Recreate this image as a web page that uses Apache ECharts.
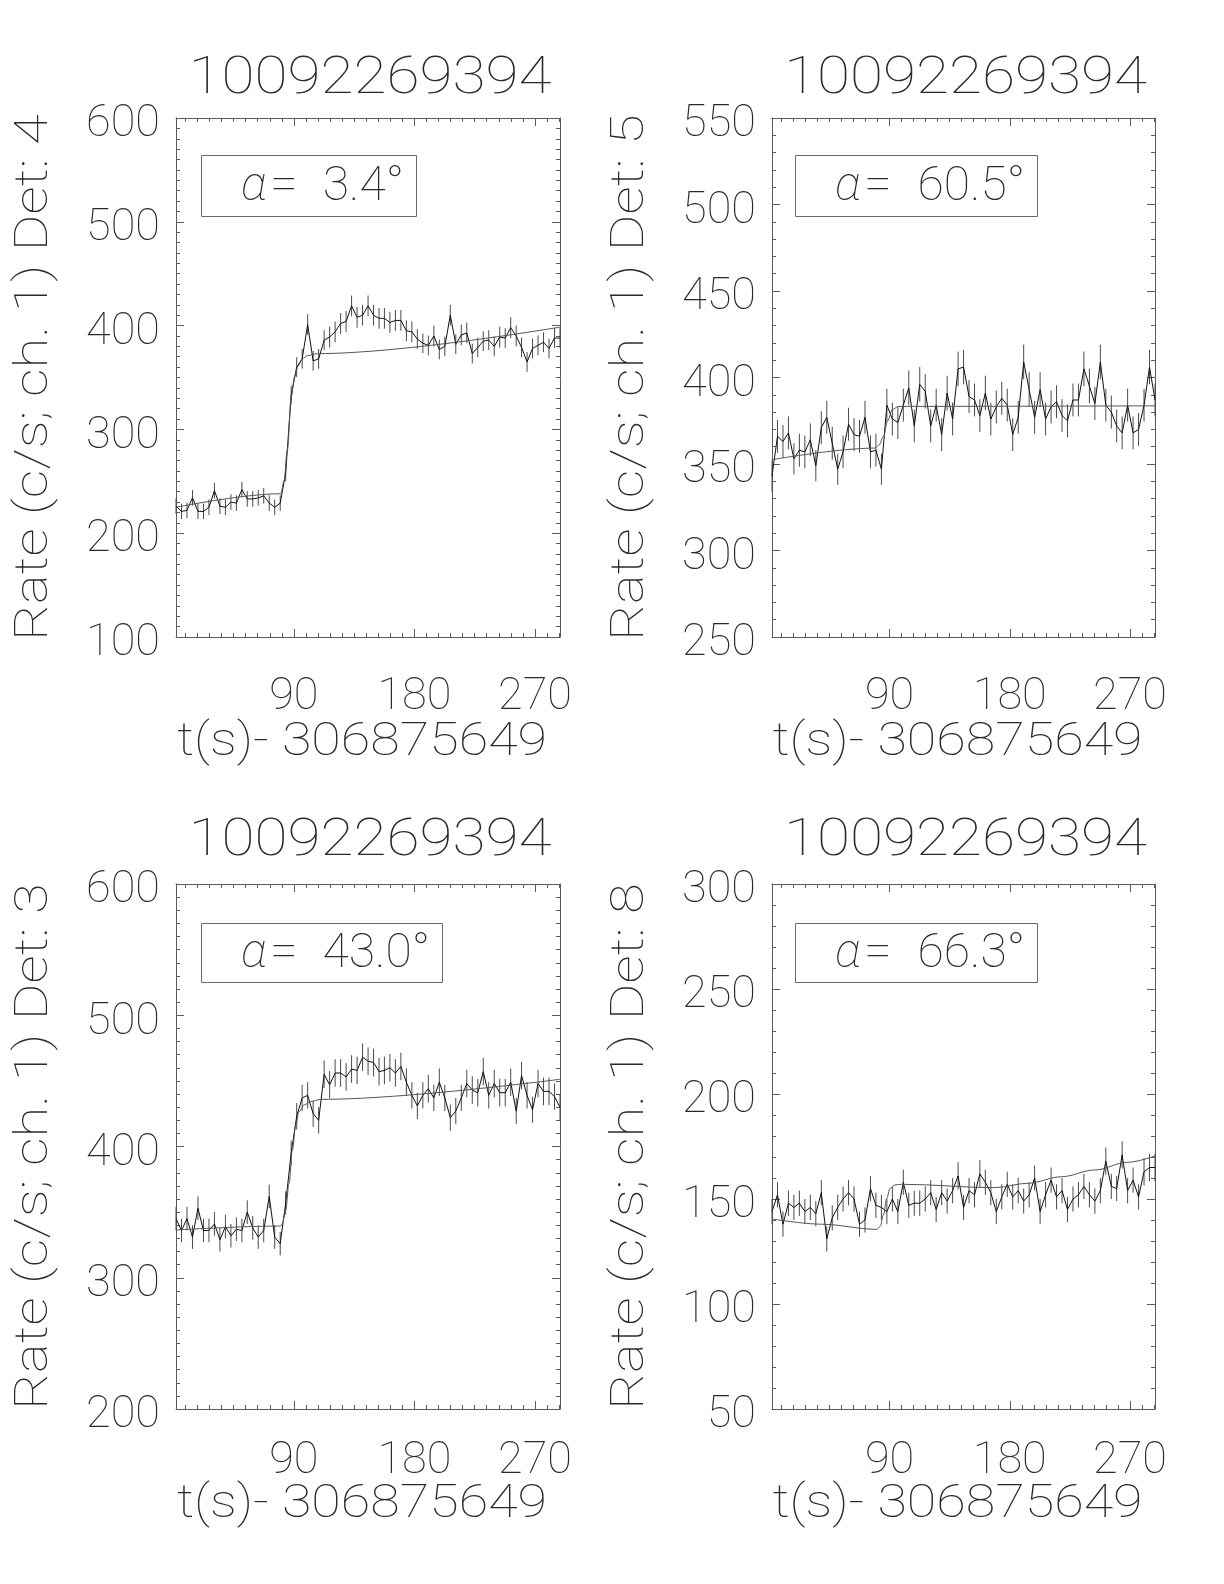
<!DOCTYPE html>
<html><head><meta charset="utf-8">
<script src="https://cdn.jsdelivr.net/npm/echarts@6/dist/echarts.min.js"></script>
<style>html,body{margin:0;padding:0;background:#fff}#c{width:1224px;height:1584px}</style>
</head><body><div id="c"></div>
<script>
// ---------- data ----------
const times = [2.0,6.1,10.2,14.3,18.4,22.5,26.6,30.7,34.8,38.9,43.0,47.1,51.2,55.2,59.3,63.4,67.5,71.6,75.7,79.8,83.9,88.0,92.1,96.2,100.3,104.4,108.5,112.6,116.7,120.8,124.9,129.0,133.1,137.2,141.3,145.4,149.5,153.6,157.6,161.7,165.8,169.9,174.0,178.1,182.2,186.3,190.4,194.5,198.6,202.7,206.8,210.9,215.0,219.1,223.2,227.3,231.4,235.5,239.6,243.7,247.8,251.9,256.0,260.0,264.1,268.2,272.3,276.4,280.5,284.6,288.7];
const xTickLabels = [90, 180, 270];
const xMinorTicks = [9,18,27,36,45,54,63,72,81,99,108,117,126,135,144,153,162,171,189,198,207,216,225,234,243,252,261,279,288];
const panelTitle = '10092269394';
const xAxisTitle = 't(s)- 306875649';
const detectors = ['4', '5', '3', '8'];
const alphaValues = ['3.4', '60.5', '43.0', '66.3'];

// Det 4
const det4Rate = [226,221,222,234,221,221,225,241,226,225,230,229,242,233,233,234,236,229,225,229,258,333,360,368,401,366,368,386,389,394,402,404,419,408,410,419,410,407,407,403,405,405,395,394,387,383,381,390,377,380,410,382,391,393,373,379,385,386,380,389,388,398,390,379,365,378,381,384,378,388,388];
const det4Err = [7.5,7.5,7.5,7.5,7.5,7.5,7.5,7.5,7.5,7.5,7.5,7.5,7.5,7.5,7.5,7.5,7.5,7.5,7.5,7.5,8,9,9.5,9.5,10,9.5,9.5,9.5,10,10,10,10,10,10,10,10,10,10,10,10,10,10,10,10,9.5,9.5,9.5,10,9.5,9.5,10,9.5,10,10,9.5,9.5,9.5,9.5,9.5,10,9.5,10,10,9.5,9.5,9.5,9.5,9.5,9.5,9.5,9.5];
const det4FitT = [2,80.2,82.6,85.1,88.1,90.6,93.1,96.3,100.1,107.5,288.7];
const det4FitV = [225,238,250,280,332,351,361,368,371,373,398.5];

// Det 5
const det5Rate = [343,366,363,368,353,358,357,364,349,371,377,362,347,357,373,367,366,377,357,358,347,384,376,374,384,394,372,396,392,372,384,367,391,376,405,406,389,387,378,391,376,383,388,384,367,377,409,393,377,393,376,383,386,378,375,387,387,405,395,385,409,384,380,372,368,384,368,370,384,406,387];
const det5Err = [9,9.5,9.5,9.5,9,9.5,9.5,9.5,9,9.5,9.5,9.5,9,9.5,9.5,9.5,9.5,9.5,9.5,9.5,9,9.5,9.5,9.5,9.5,10,9.5,10,10,9.5,9.5,9.5,10,9.5,10,10,9.5,9.5,9.5,10,9.5,9.5,9.5,9.5,9.5,9.5,10,10,9.5,10,9.5,9.5,9.5,9.5,9.5,9.5,9.5,10,10,9.5,10,9.5,9.5,9.5,9.5,9.5,9.5,9.5,9.5,10,9.5];
const det5FitT = [2,79.2,82.2,85.4,88.6,92.1,96.6,288.7];
const det5FitV = [352.5,359.2,361,366,375,381.5,383.3,383.6];

// Det 3
const det3Rate = [345,336,345,331,353,336,336,341,329,339,332,337,336,350,338,331,336,362,331,326,357,395,423,437,439,425,420,455,447,456,456,453,459,458,468,465,464,457,458,460,456,461,449,439,431,439,444,437,449,437,422,427,437,448,443,441,457,439,448,441,441,449,427,454,439,428,448,442,442,438,430];
const det3Err = [9,9,9,9,9,9,9,9,9,9,9,9,9,9,9,9,9,9,9,9,9,9.5,10,10,10,10,10,10.5,10.5,10.5,10.5,10.5,10.5,10.5,10.5,10.5,10.5,10.5,10.5,10.5,10.5,10.5,10.5,10,10,10,10.5,10,10.5,10,10,10,10,10.5,10.5,10.5,10.5,10,10.5,10.5,10.5,10.5,10,10.5,10,10,10.5,10.5,10.5,10,10];
const det3FitT = [2,80.2,81.4,83.9,86.4,88.9,91.4,93.8,97.6,102.6,110,288.7];
const det3FitV = [336.4,339.4,341.4,351.6,371.9,397.3,416.4,426.5,431.6,434.2,435.9,451.2];

// Det 8
const det8Rate = [144,152,138,148,146,148,144,146,143,153,131,141,146,150,153,150,138,140,155,147,146,144,150,144,158,147,148,148,150,153,145,153,149,154,161,146,154,152,162,158,153,144,151,157,151,154,149,152,160,144,152,159,151,154,145,150,152,156,152,149,154,168,156,155,171,154,159,151,163,165,165];
const det8Err = [6,6,6,6,6,6,6,6,6,6,6,6,6,6,6,6,6,6,6,6,6,6,6,6,6,6,6,6,6,6,6,6,6,6,6.5,6,6,6,6.5,6,6,6,6,6,6,6,6,6,6,6,6,6,6,6,6,6,6,6,6,6,6,6.5,6,6,6.5,6,6,6,6.5,6.5,6.5];
const det8FitT = [2,39.3,80.4,83,85.4,87.9,90.4,94.1,99.1,168.8,193.7,218.6,243.4,268.3,288.7];
const det8FitV = [140.5,138,135.5,137,142.4,150.3,155.1,156.7,157,155.4,157.5,160.6,163.8,167.5,170.5];

// ---------- layout / style ----------
const FONT = 'Roboto, "DejaVu Sans", sans-serif';
const FW = 100;
const TXT = '#2a2a2a';
const AXC = '#5a5a5a';
const X_MIN = 2, X_MAX = 288.7;

const panels = [
  {rate: det4Rate, err: det4Err, fitT: det4FitT, fitV: det4FitV, ymin: 100, ymax: 600, yint: 100, ysplit: 10, box: [176,118,384,519], xlabMargin: 38, alphaBox: [201,155,215,61]},
  {rate: det5Rate, err: det5Err, fitT: det5FitT, fitV: det5FitV, ymin: 250, ymax: 550, yint: 50, ysplit: 5, box: [772,118,383,519], xlabMargin: 38, alphaBox: [795,155,242,61]},
  {rate: det3Rate, err: det3Err, fitT: det3FitT, fitV: det3FitV, ymin: 200, ymax: 600, yint: 100, ysplit: 10, box: [176,884,384,525], xlabMargin: 30, alphaBox: [201,923,241,59]},
  {rate: det8Rate, err: det8Err, fitT: det8FitT, fitV: det8FitV, ymin: 50, ymax: 300, yint: 50, ysplit: 5, box: [772,884,383,525], xlabMargin: 30, alphaBox: [795,923,242,59]}
];
const titleY = [80, 80, 842, 842];
const xNameY = [743, 743, 1505, 1505];

const option = {animation: false, backgroundColor: '#fff', grid: [], xAxis: [], yAxis: [], series: [], graphic: []};
const labelStyle = {fontFamily: FONT, fontWeight: FW, fontSize: 45, color: TXT};
const tickLine = {color: AXC, width: 1};

function errRender(params, api) {
  const t = api.value(0), lo = api.value(1), hi = api.value(2);
  const p1 = api.coord([t, lo]);
  const p2 = api.coord([t, hi]);
  return {type: 'line', shape: {x1: p1[0], y1: p1[1], x2: p2[0], y2: p2[1]}, style: {stroke: '#4a4a4a', lineWidth: 1}};
}

panels.forEach((p, g) => {
  const [L, T, W, H] = p.box;
  option.grid.push({left: L, top: T, width: W, height: H, show: false});
  ['bottom', 'top'].forEach(pos => {
    option.xAxis.push({
      gridIndex: g, type: 'value', position: pos, min: X_MIN, max: X_MAX,
      axisLine: {show: true, onZero: false, lineStyle: tickLine},
      axisTick: {show: true, inside: true, length: 8, customValues: xTickLabels, lineStyle: tickLine},
      axisLabel: Object.assign({show: pos === 'bottom', customValues: xTickLabels, margin: p.xlabMargin}, labelStyle),
      splitLine: {show: false}
    });
    option.xAxis.push({
      gridIndex: g, type: 'value', position: pos, min: X_MIN, max: X_MAX,
      axisLine: {show: false},
      axisTick: {show: true, inside: true, length: 4, customValues: xMinorTicks, lineStyle: tickLine},
      axisLabel: {show: false},
      splitLine: {show: false}
    });
  });
  ['left', 'right'].forEach(pos => {
    option.yAxis.push({
      gridIndex: g, type: 'value', position: pos, min: p.ymin, max: p.ymax, interval: p.yint,
      axisLine: {show: true, onZero: false, lineStyle: tickLine},
      axisTick: {show: true, inside: true, length: 8, lineStyle: tickLine},
      minorTick: {show: true, splitNumber: p.ysplit, length: 4, lineStyle: tickLine},
      axisLabel: Object.assign({show: pos === 'left', margin: 16, verticalAlign: 'top', lineHeight: 14}, labelStyle),
      splitLine: {show: false}, minorSplitLine: {show: false}
    });
  });
  const xi = 4 * g, yi = 2 * g;
  option.series.push({
    type: 'custom', xAxisIndex: xi, yAxisIndex: yi, silent: true, z: 2,
    data: p.rate.map((v, i) => [times[i], v - p.err[i], v + p.err[i]]),
    renderItem: errRender
  });
  option.series.push({
    type: 'line', xAxisIndex: xi, yAxisIndex: yi, silent: true, z: 3,
    data: p.rate.map((v, i) => [times[i], v]),
    symbol: 'none', showSymbol: false,
    lineStyle: {color: '#111', width: 1}
  });
  option.series.push({
    type: 'line', xAxisIndex: xi, yAxisIndex: yi, silent: true, z: 4,
    data: p.fitT.map((t, i) => [t, p.fitV[i]]),
    symbol: 'none', showSymbol: false, smooth: 0.35, smoothMonotone: 'x',
    lineStyle: {color: '#555', width: 1}
  });

  // texts
  const cx = L + W / 2;
  const txt = (extra) => Object.assign({fontFamily: FONT, fontWeight: FW, fill: TXT, verticalAlign: 'middle'}, extra);
  option.graphic.push({type: 'text', x: cx + 2, y: titleY[g], scaleX: 1.16, silent: true,
    style: txt({text: panelTitle, fontSize: 52, align: 'center'})});
  option.graphic.push({type: 'text', x: cx - 6, y: xNameY[g], scaleX: 1.17, silent: true,
    style: txt({text: xAxisTitle, fontSize: 46, align: 'center'})});
  option.graphic.push({type: 'text', x: L - 141, y: T + H / 2, rotation: Math.PI / 2, scaleX: 1.22, silent: true,
    style: txt({text: 'Rate (c/s; ch. 1) Det: ' + detectors[g], fontSize: 46, align: 'center'})});
  const [bx, by, bw, bh] = p.alphaBox;
  const my = by + bh / 2 + 2;
  option.graphic.push({type: 'rect', silent: true, shape: {x: bx + 0.5, y: by + 0.5, width: bw, height: bh},
    style: {fill: 'none', stroke: '#6a6a6a', lineWidth: 1}});
  option.graphic.push({type: 'text', x: bx + 40, y: my, silent: true,
    style: txt({text: 'α', fontSize: 48, fontStyle: 'italic', align: 'left'})});
  option.graphic.push({type: 'text', x: bx + 69, y: my, silent: true,
    style: txt({text: '=', fontSize: 50, align: 'left'})});
  option.graphic.push({type: 'text', x: bx + bw - 12, y: my, silent: true,
    style: txt({text: alphaValues[g] + '°', fontSize: 48, align: 'right'})});
});

const chart = echarts.init(document.getElementById('c'), null, {renderer: 'canvas'});
chart.setOption(option);
</script>
</body></html>
